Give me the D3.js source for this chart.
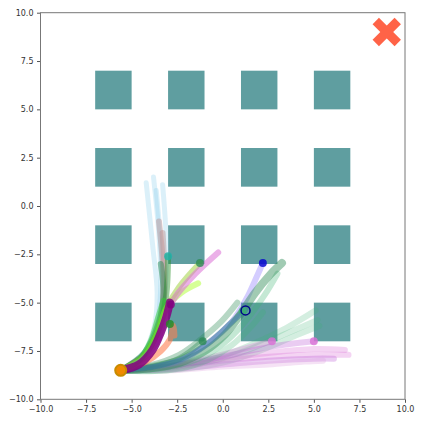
<!DOCTYPE html>
<html><head><meta charset="utf-8">
<script src="https://cdn.jsdelivr.net/npm/d3@7"></script>
<style>body{margin:0;background:#fff}svg{display:block}text{font-family:"DejaVu Sans",sans-serif}</style>
</head><body><svg id="c" width="423" height="423"></svg>
<script>
// ---- data ----
const startPoint = [-5.6, -8.5];
const goalPoint = [9, 9];
const obstacleX = [-7, -3, 1, 5];
const obstacleY = [-7, -3, 1, 5];
const obstacleSide = 2;
const xTicks = [-10, -7.5, -5, -2.5, 0, 2.5, 5, 7.5, 10];
const yTicks = [-10, -7.5, -5, -2.5, 0, 2.5, 5, 7.5, 10];

// trajectories (waypoints)
const trajSky1 = [[-5.6,-8.5],[-4.4,-7.7],[-3.75,-6.2],[-3.6,-4.5],[-3.85,-2.0],[-4.2,1.2]];
const trajSky2 = [[-5.6,-8.5],[-4.3,-7.6],[-3.6,-6.0],[-3.4,-4.2],[-3.5,-1.5],[-3.8,1.5]];
const trajSky3 = [[-5.6,-8.5],[-4.3,-7.6],[-3.5,-6.0],[-3.3,-4.3],[-3.4,-2.0],[-3.65,0.8]];
const trajSky4 = [[-5.6,-8.5],[-4.2,-7.5],[-3.4,-5.9],[-3.15,-4.2],[-3.1,-1.8],[-3.3,1.1]];
const trajBrown1 = [[-5.6,-8.5],[-4.2,-7.6],[-3.4,-5.8],[-3.25,-3.8],[-3.5,-0.8]];
const trajBrown2 = [[-5.6,-8.5],[-4.2,-7.6],[-3.35,-5.8],[-3.2,-4.0],[-3.3,-1.4]];
const trajGreenUp1 = [[-5.6,-8.5],[-4.3,-7.6],[-3.5,-6.0],[-3.25,-4.5],[-3.4,-3.0]];
const trajGreenUp2 = [[-5.6,-8.5],[-4.3,-7.7],[-3.45,-6.2],[-3.1,-4.6],[-3.0,-2.6]];
const trajYellow1 = [[-5.6,-8.5],[-4.4,-7.8],[-3.6,-6.6],[-3.1,-5.3],[-2.4,-4.2],[-1.25,-2.95]];
const trajYellow2 = [[-5.6,-8.5],[-4.4,-7.9],[-3.7,-6.8],[-3.05,-5.2],[-2.3,-4.5],[-1.35,-4.0]];
const trajOrchidUp = [[-5.6,-8.5],[-4.5,-8.0],[-3.6,-7.0],[-3.1,-5.6],[-2.6,-4.7],[-1.5,-3.5],[-0.25,-2.4]];
const trajCoral = [[-5.6,-8.5],[-4.3,-8.1],[-3.4,-7.5],[-2.9,-6.9],[-2.7,-6.2],[-2.65,-6.7]];
const trajLime = [[-5.6,-8.5],[-4.6,-8.0],[-3.95,-7.0],[-3.55,-5.8],[-3.25,-4.9]];
const trajPurple = [[-5.6,-8.5],[-4.6,-8.2],[-3.85,-7.45],[-3.4,-6.55],[-3.1,-5.75],[-2.9,-5.0]];
const trajSea1 = [[-5.6,-8.5],[-4.0,-8.4],[-2.35,-8.1],[-0.97,-7.5],[0.12,-6.65],[0.94,-5.65],[1.77,-4.5],[2.6,-3.55],[3.25,-2.95]];
const trajSea2 = [[-5.6,-8.5],[-4.0,-8.35],[-2.4,-7.9],[-1.1,-7.0]];
const trajSea3 = [[-5.6,-8.5],[-4.0,-8.3],[-2.3,-7.9],[-0.8,-7.1],[0.4,-6.1],[1.1,-5.45]];
const trajSea4 = [[-5.6,-8.5],[-4.0,-8.45],[-2.3,-8.2],[-0.9,-7.7],[0.3,-6.9],[1.3,-5.9],[2.3,-4.6],[3.0,-3.5]];
const trajSea5 = [[-5.6,-8.5],[-4.0,-8.55],[-2.3,-8.4],[-0.8,-7.95],[0.5,-7.2],[1.5,-6.3],[2.2,-5.5]];
const trajSea6 = [[-5.6,-8.5],[-4.0,-8.25],[-2.4,-7.7],[-1.2,-6.9],[-0.1,-6.0],[0.8,-5.0]];
const trajBlue1 = [[-5.6,-8.5],[-4.0,-8.35],[-2.3,-7.95],[-0.8,-7.1],[0.5,-6.0],[1.25,-5.4]];
const trajBlue2 = [[-5.6,-8.5],[-4.0,-8.35],[-2.3,-8.0],[-0.8,-7.1],[0.5,-6.0],[1.3,-4.8],[1.75,-3.9],[2.2,-2.95]];
const trajFan1 = [[-5.6,-8.5],[-3.0,-8.4],[-0.5,-7.9],[1.5,-7.2],[3.5,-6.3],[5.1,-5.4]];
const trajFan2 = [[-5.6,-8.5],[-3.0,-8.45],[-0.5,-8.0],[1.5,-7.4],[3.5,-6.6],[5.2,-5.9]];
const trajFan3 = [[-5.6,-8.5],[-3.0,-8.5],[0.0,-8.1],[2.0,-7.5],[4.0,-6.7],[5.3,-6.2]];
const trajPlum1 = [[-5.6,-8.5],[-3.0,-8.3],[0.0,-7.9],[2.5,-7.6],[5.0,-7.4],[6.7,-7.45]];
const trajPlum2 = [[-5.6,-8.5],[-3.0,-8.35],[0.0,-8.0],[2.5,-7.8],[5.0,-7.7],[6.9,-7.7]];
const trajPlum3 = [[-5.6,-8.5],[-3.0,-8.45],[0.0,-8.2],[2.5,-8.0],[5.0,-7.9],[6.1,-7.9]];
const trajPlum4 = [[-5.6,-8.5],[-3.0,-8.5],[0.0,-8.3],[2.5,-8.2],[4.5,-8.05],[5.5,-8.0]];
const trajPlum5 = [[-5.6,-8.5],[-3.0,-8.3],[-0.5,-7.8],[1.5,-7.3],[2.7,-7.0]];
const trajPlum6 = [[-5.6,-8.5],[-3.0,-8.3],[0.0,-7.8],[2.5,-7.3],[5.0,-7.0]];

const trajectories = [trajSky1,trajSky2,trajSky3,trajSky4,trajBrown1,trajBrown2,
  trajFan1,trajFan2,trajFan3,trajPlum1,trajPlum2,trajPlum3,trajPlum4,trajPlum5,trajPlum6,
  trajSea4,trajSea5,trajSea6,trajBlue2,trajSea1,trajSea2,trajSea3,trajBlue1,
  trajGreenUp1,trajGreenUp2,trajYellow1,trajYellow2,trajOrchidUp,trajCoral,trajLime,trajPurple];
const trajColors = ["#87CEEB","#87CEEB","#87CEEB","#87CEEB","#BC8F8F","#BC8F8F",
  "#3CB371","#3CB371","#3CB371","#DA70D6","#DA70D6","#BA55D3","#DDA0DD","#DA70D6","#BA55D3",
  "#3CB371","#3CB371","#2E8B57","#8470FF","#2E8B57","#2E8B57","#2E8B57","#4169E1",
  "#2E8B57","#228B22","#9ACD32","#ADFF2F","#DA70D6","#FF7F50","#32CD32","#800080"];
const trajAlpha = [0.3,0.3,0.3,0.3,0.45,0.45,
  0.22,0.22,0.22,0.3,0.3,0.3,0.3,0.3,0.3,
  0.3,0.25,0.35,0.35,0.45,0.4,0.4,0.3,
  0.5,0.45,0.5,0.5,0.55,0.6,0.5,0.85];
const trajWidth = [5,5,5,5,6,6, 6,6,6,6,6,6,6,6,6, 6,6,6,6,8,6,6,5, 6,6,6,6,6,6,6,8];

// final positions drawn as dots
const endDots = [[2.2,-2.95],[-1.25,-2.95],[-1.1,-7.0],[1.1,-5.45],[2.7,-7.0],[5.0,-7.0],[-3.0,-2.6],[-2.9,-6.1],[-2.85,-5.1]];
const endDotColors = ["#0000CD","#2E8B57","#2E8B57","#3CB371","#DA70D6","#DA70D6","#20B2AA","#228B22","#800080"];
const ringDots = [[1.25,-5.4]];

// ---- drawing ----
const svg = d3.select("#c");
const x = d3.scaleLinear().domain([-10,10]).range([40.5,405]);
const y = d3.scaleLinear().domain([-10,10]).range([399.3,12.7]);

// obstacles
const cells = [];
obstacleX.forEach(ox => obstacleY.forEach(oy => cells.push([ox, oy])));
svg.append("g").selectAll("rect").data(cells).join("rect")
  .attr("x", d => x(d[0])).attr("y", d => y(d[1] + obstacleSide))
  .attr("width", d => x(d[0] + obstacleSide) - x(d[0]))
  .attr("height", d => y(d[1]) - y(d[1] + obstacleSide))
  .attr("fill", "#5F9EA0");

// trajectories
const line = d3.line().x(d => x(d[0])).y(d => y(d[1])).curve(d3.curveCatmullRom.alpha(0.5));
svg.append("g").selectAll("path").data(trajectories).join("path")
  .attr("d", line)
  .attr("fill", "none")
  .attr("stroke", (d,i) => trajColors[i])
  .attr("stroke-opacity", (d,i) => trajAlpha[i])
  .attr("stroke-width", (d,i) => trajWidth[i])
  .attr("stroke-linecap", "round")
  .attr("stroke-linejoin", "round");

svg.append("g").selectAll("circle").data(endDots).join("circle")
  .attr("cx", d => x(d[0])).attr("cy", d => y(d[1])).attr("r", 4)
  .attr("fill", (d,i) => endDotColors[i]).attr("fill-opacity", 0.8);
svg.append("g").selectAll("circle").data(ringDots).join("circle")
  .attr("cx", d => x(d[0])).attr("cy", d => y(d[1])).attr("r", 4.5)
  .attr("fill", "none").attr("stroke", "#00008B").attr("stroke-width", 1.5);

// start
svg.append("circle").attr("cx", x(startPoint[0])).attr("cy", y(startPoint[1])).attr("r", 5.5)
  .attr("fill", "#F08A00").attr("stroke", "#C88C00").attr("stroke-width", 2);

// goal X
const gx = x(goalPoint[0]), gy = y(goalPoint[1]);
const g = svg.append("g").attr("stroke", "#FF6347").attr("stroke-width", 9);
g.append("line").attr("x1", gx-11).attr("y1", gy-11).attr("x2", gx+11).attr("y2", gy+11);
g.append("line").attr("x1", gx-11).attr("y1", gy+11).attr("x2", gx+11).attr("y2", gy-11);

// axes
const xAxis = d3.axisBottom(x).tickValues(xTicks).tickFormat(d3.format(".1f")).tickSize(3.5).tickPadding(3.5);
const yAxis = d3.axisLeft(y).tickValues(yTicks).tickFormat(d3.format(".1f")).tickSize(3.5).tickPadding(3.5);
const ga = svg.append("g").attr("transform", "translate(0,399.3)").call(xAxis);
const gb = svg.append("g").attr("transform", "translate(40.5,0)").call(yAxis);
[ga, gb].forEach(a => {
  a.select(".domain").remove();
  a.selectAll("line").attr("stroke", "#555");
  a.selectAll("text").attr("font-size", 8).attr("fill", "#333").attr("font-family", "DejaVu Sans");
});
svg.append("rect").attr("x", 40.5).attr("y", 12.7).attr("width", 364.5).attr("height", 386.6)
  .attr("fill", "none").attr("stroke", "#777").attr("stroke-width", 1);
</script></body></html>
